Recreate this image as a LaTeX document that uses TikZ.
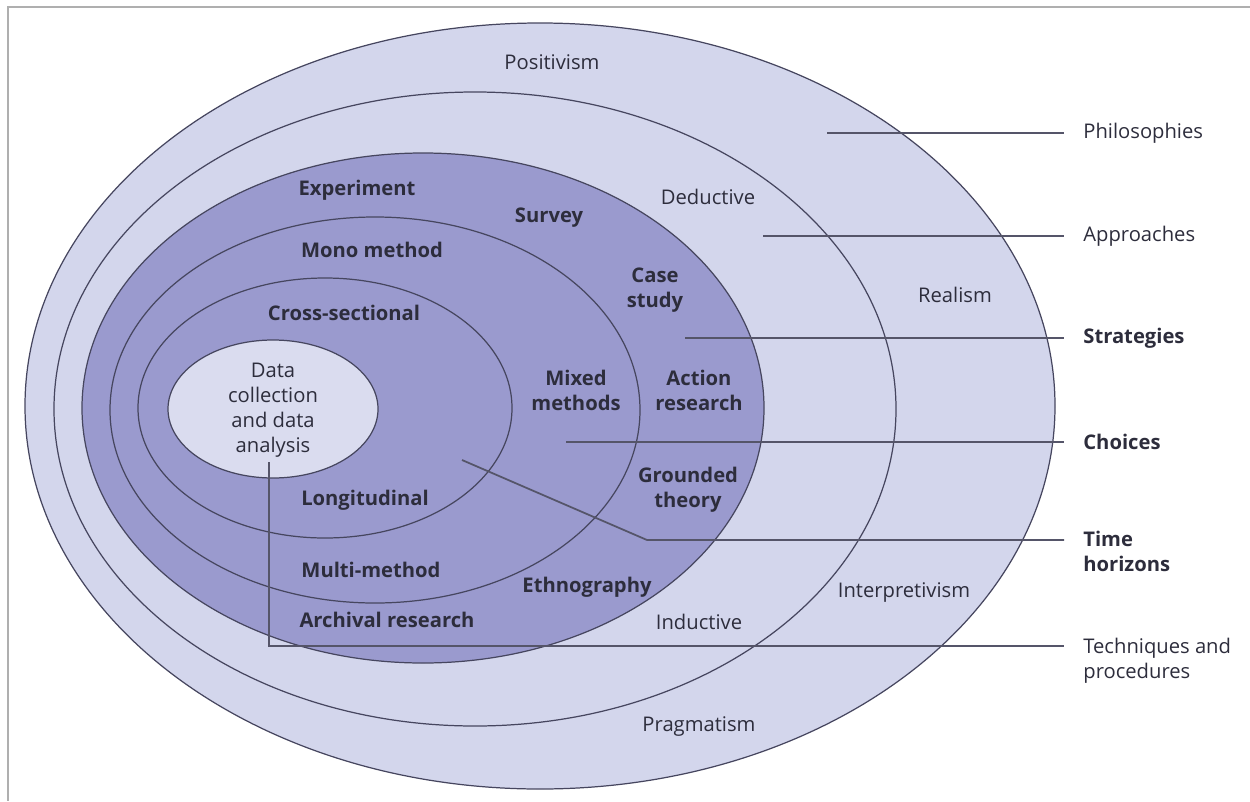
\documentclass[tikz,border=0pt]{standalone}
\usepackage{fontspec}
\setmainfont{Open Sans}

\definecolor{paleband}{RGB}{211,214,236}
\definecolor{deepband}{RGB}{154,154,206}
\definecolor{coreband}{RGB}{218,220,239}
\definecolor{ringline}{RGB}{70,70,95}
\definecolor{leadline}{RGB}{85,85,105}
\definecolor{labeltext}{RGB}{45,45,60}
\definecolor{framegray}{RGB}{175,175,175}

\newcommand{\onionfont}{\fontsize{11.5}{14.2}\selectfont}

\begin{document}
\begin{tikzpicture}[x=0.02cm,y=-0.02cm,
    ring/.style={draw=ringline,line width=0.7pt},
    leader/.style={draw=leadline,line width=1pt},
    lbl/.style={text=labeltext,font=\onionfont,inner sep=0pt,align=center},
    blbl/.style={lbl,font=\onionfont\bfseries},
    side/.style={lbl,align=left,anchor=west}]
      \useasboundingbox (0,0) rectangle (1250,801);
      \draw[framegray,line width=0.6pt] (1250,7) -- (8,7) -- (8,801);

      \coordinate (c1) at (540,406);
      \coordinate (c2) at (475,409);
      \coordinate (c3) at (423,408);
      \coordinate (c4) at (375,410);
      \coordinate (c5) at (325,408);
      \coordinate (c6) at (273,409);

      \filldraw[ring,fill=paleband] (c1) ellipse [x radius=515,y radius=383];
      \draw[ring] (c2) ellipse [x radius=421,y radius=317];
      \filldraw[ring,fill=deepband] (c3) ellipse [x radius=341,y radius=255];
      \draw[ring] (c4) ellipse [x radius=265,y radius=193];
      \draw[ring] (c5) ellipse [x radius=187,y radius=130];
      \filldraw[ring,fill=coreband] (c6) ellipse [x radius=105,y radius=69];

      \node [lbl] (data) at (273,410) {Data\\collection\\and data\\analysis};

      \node [lbl] (posit) at (552,62) {Positivism};
      \node [lbl] (deduct) at (708,197) {Deductive};
      \node [lbl] (realism) at (955,295) {Realism};
      \node [lbl] (interp) at (904,593) {Interpretivism};
      \node [lbl] (induct) at (699,622) {Inductive};
      \node [lbl] (pragm) at (699,727) {Pragmatism};

      \node [blbl] (exper) at (357,190) {Experiment};
      \node [blbl] (survey) at (549,218) {Survey};
      \node [blbl] (mono) at (372,250) {Mono method};
      \node [blbl] (casest) at (655,290) {Case\\study};
      \node [blbl] (cross) at (344,313) {Cross-sectional};
      \node [blbl] (mixed) at (576,390) {Mixed\\methods};
      \node [blbl] (action) at (699,390) {Action\\research};
      \node [blbl] (ground) at (688,490) {Grounded\\theory};
      \node [blbl] (longit) at (365,500) {Longitudinal};
      \node [blbl] (multi) at (371,570) {Multi-method};
      \node [blbl] (ethno) at (587,587) {Ethnography};
      \node [blbl] (archiv) at (387,620) {Archival research};

      \node [side] (philo) at (1083,133) {Philosophies};
      \node [side] (approach) at (1083,236) {Approaches};
      \node [side,font=\onionfont\bfseries] (strat) at (1083,338) {Strategies};
      \node [side,font=\onionfont\bfseries] (choice) at (1083,442) {Choices};
      \node [side,font=\onionfont\bfseries,anchor=north west] (timehz) at (1083,531) {Time\\horizons};
      \node [side,anchor=north west] (techn) at (1083,638) {Techniques and\\procedures};

      \coordinate (philoL) at (827,133);
      \coordinate (approachL) at (763,236);
      \coordinate (stratL) at (685,338);
      \coordinate (choiceL) at (566,442);
      \coordinate (timeA) at (462,460);
      \coordinate (timeB) at (647,540);
      \coordinate (dataL) at (269,462);
      \coordinate (techK) at (269,646);

      \draw[leader] (philoL) -- ([xshift=-10.8pt]philo.west);
      \draw[leader] (approachL) -- ([xshift=-10.8pt]approach.west);
      \draw[leader] (stratL) -- ([xshift=-10.8pt]strat.west);
      \draw[leader] (choiceL) -- ([xshift=-10.8pt]choice.west);
      \draw[leader] (timeA) -- (timeB) -- ([xshift=-10.8pt]timeB -| timehz.west);
      \draw[leader] (dataL) -- (techK) -- ([xshift=-10.8pt]techK -| techn.west);
  \end{tikzpicture}
\end{document}
